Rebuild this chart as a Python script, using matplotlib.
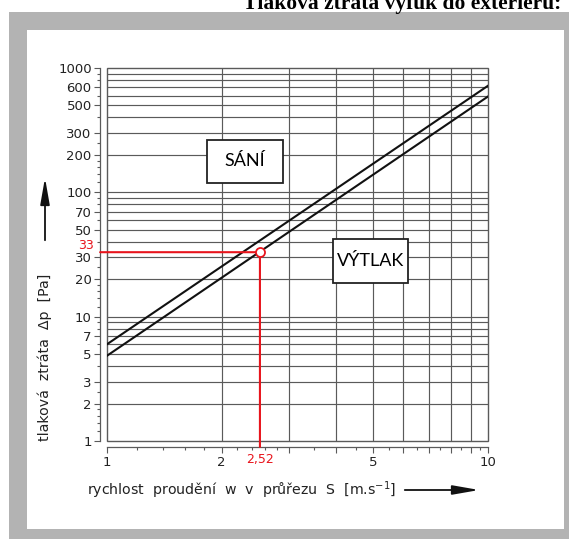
import matplotlib
matplotlib.use("Agg")
import matplotlib.pyplot as plt
from matplotlib.patches import Rectangle, FancyArrowPatch

# --- data ---
rychlost = [1, 10]                # w [m/s]
dp_sani = [6.0, 720.0]            # horni primka (SANI)
dp_vytlak = [4.85, 590.0]         # dolni primka (VYTLAK)
bod_w = 2.52
bod_dp = 33

x_ticks = [1, 2, 3, 4, 5, 6, 7, 8, 9, 10]
x_labels = ["1", "2", "", "", "5", "", "", "", "", "10"]
x_minor = [1.2, 1.4, 1.6, 1.8, 2.2, 2.4, 2.6, 2.8, 3.5, 4.5, 5.5, 6.5, 7.5, 8.5, 9.5]
x_grid = [2, 3, 4, 5, 6, 7, 8, 9]

y_ticks = [1, 2, 3, 5, 7, 10, 20, 30, 50, 70, 100, 200, 300, 500, 700, 1000]
y_labels = ["1", "2", "3", "5", "7", "10", "20", "30", "50", "70",
            "100", "200", "300", "500", "600", "1000"]
y_minor = [1.2, 1.4, 1.6, 1.8, 2.5, 4, 6, 8, 9,
           12, 14, 16, 18, 25, 40, 60, 80, 90,
           120, 140, 160, 180, 250, 400, 600, 800, 900]
y_grid = [2, 3, 4, 5, 6, 7, 8, 9, 10, 20, 30, 40, 50, 60, 70, 80, 90,
          100, 200, 300, 400, 500, 600, 700, 800, 900]

W, H = 569, 539
GRID = "#5a5a5a"


def fx(px):
    return px / W


def fy(py):
    return 1 - py / H


fig = plt.figure(figsize=(W / 100, H / 100), dpi=100)
fig.patch.set_facecolor("white")

# sede oramovani skenu
fig.patches.append(Rectangle((fx(9), 0), fx(W) - fx(9), fy(12), transform=fig.transFigure,
                             facecolor="#b3b3b3", edgecolor="none", zorder=-3))
fig.patches.append(Rectangle((fx(27), fy(529)), fx(564) - fx(27), fy(30) - fy(529),
                             transform=fig.transFigure, facecolor="white",
                             edgecolor="none", zorder=-2))

# useknuty nadpis nahore (v originale je oriznuty)
fig.text(fx(243), fy(9.5), "Tlaková ztráta výfuk do exteriéru:", family="Liberation Serif",
         weight="bold", fontsize=15.5, ha="left", va="baseline", zorder=-1)

ax = fig.add_axes([fx(107), fy(441), fx(488) - fx(107), fy(68) - fy(441)])
ax.set_zorder(1)
ax.set_facecolor("white")
ax.set_xscale("log")
ax.set_yscale("log")
ax.set_xlim(1, 10)
ax.set_ylim(1, 1000)

for v in x_grid:
    ax.axvline(v, color=GRID, lw=0.85, zorder=1)
for v in y_grid:
    ax.axhline(v, color=GRID, lw=0.85, zorder=1)
ax.add_patch(Rectangle((0, 0), 1, 1, transform=ax.transAxes, fill=False,
                       edgecolor=GRID, lw=1.0, zorder=2, clip_on=False))

ax.plot(rychlost, dp_sani, color="#111111", lw=1.5, zorder=3)
ax.plot(rychlost, dp_vytlak, color="#111111", lw=1.5, zorder=3)

# osy se stupnicemi odsazene od mrizky
ax.spines["left"].set_position(("outward", 5))
ax.spines["bottom"].set_position(("outward", 4.3))
for s in ["top", "right"]:
    ax.spines[s].set_visible(False)
for s in ["left", "bottom"]:
    ax.spines[s].set_color(GRID)
    ax.spines[s].set_linewidth(0.9)

ax.set_xticks(x_ticks)
ax.set_xticklabels(x_labels)
ax.set_xticks(x_minor, minor=True)
ax.set_yticks(y_ticks)
ax.set_yticklabels(y_labels)
ax.set_yticks(y_minor, minor=True)
ax.xaxis.set_minor_formatter(plt.NullFormatter())
ax.yaxis.set_minor_formatter(plt.NullFormatter())
ax.tick_params(which="major", direction="out", length=4, width=0.8, color=GRID,
               labelsize=9.5, labelcolor="#222222")
ax.tick_params(axis="y", which="major", pad=2)
ax.tick_params(axis="x", which="major", length=4.5, pad=2)
ax.tick_params(which="minor", direction="out", length=2.3, width=0.8, color=GRID)

# odecteny bod
red = "#e8141c"
ax.annotate("", xy=(bod_w, bod_dp), xytext=(-0.018, bod_dp),
            xycoords="data", textcoords=("axes fraction", "data"),
            arrowprops=dict(arrowstyle="-", color=red, lw=1.5, shrinkA=0, shrinkB=0),
            zorder=4)
ax.annotate("", xy=(bod_w, bod_dp), xytext=(bod_w, -0.016),
            xycoords="data", textcoords=("data", "axes fraction"),
            arrowprops=dict(arrowstyle="-", color=red, lw=1.5, shrinkA=0, shrinkB=0),
            zorder=4)
ax.plot([bod_w], [bod_dp], "o", ms=6.5, mfc="white", mec=red, mew=1.3, zorder=5,
        clip_on=False)
ax.annotate(f"{bod_dp}", xy=(0, bod_dp), xycoords=("axes fraction", "data"),
            xytext=(-13, 7), textcoords="offset pixels", ha="right", va="center",
            color=red, fontsize=9)
ax.annotate(f"{bod_w:.2f}".replace(".", ","), xy=(bod_w, 0), xycoords=("data", "axes fraction"),
            xytext=(0, -19), textcoords="offset pixels", ha="center", va="center",
            color=red, fontsize=9)

# popisky oblasti
for (x0, y0, x1, y1, txt) in [(0.2625, 0.6917, 0.462, 0.807, "SÁNÍ"),
                              (0.593, 0.4236, 0.790, 0.5416, "VÝTLAK")]:
    ax.add_patch(Rectangle((x0, y0), x1 - x0, y1 - y0, transform=ax.transAxes,
                           facecolor="white", edgecolor="#222222", lw=1.3, zorder=6))
    ax.text((x0 + x1) / 2, (y0 + y1) / 2, txt, transform=ax.transAxes, ha="center",
            va="center", family="Lato", fontsize=13, zorder=7)

# popisky os se sipkami
fig.text(fx(45), fy(357), "tlaková  ztráta  Δp  [Pa]", rotation=90, ha="center",
         va="center", fontsize=10.2, color="#222222")
fig.patches.append(FancyArrowPatch(
    (fx(45), fy(243)), (fx(45), fy(175)), transform=fig.transFigure,
    arrowstyle="-|>,head_length=1.6,head_width=0.28", mutation_scale=10,
    color="#111111", lw=1.3))
fig.text(fx(87), fy(490), "rychlost  proudění  w  v  průřezu  S  [m.s$^{-1}$]",
         ha="left", va="center", fontsize=10.2, color="#222222")
fig.patches.append(FancyArrowPatch(
    (fx(402), fy(490)), (fx(482), fy(490)), transform=fig.transFigure,
    arrowstyle="-|>,head_length=1.6,head_width=0.28", mutation_scale=10,
    color="#111111", lw=1.3))

fig.savefig("out.png", dpi=100)
